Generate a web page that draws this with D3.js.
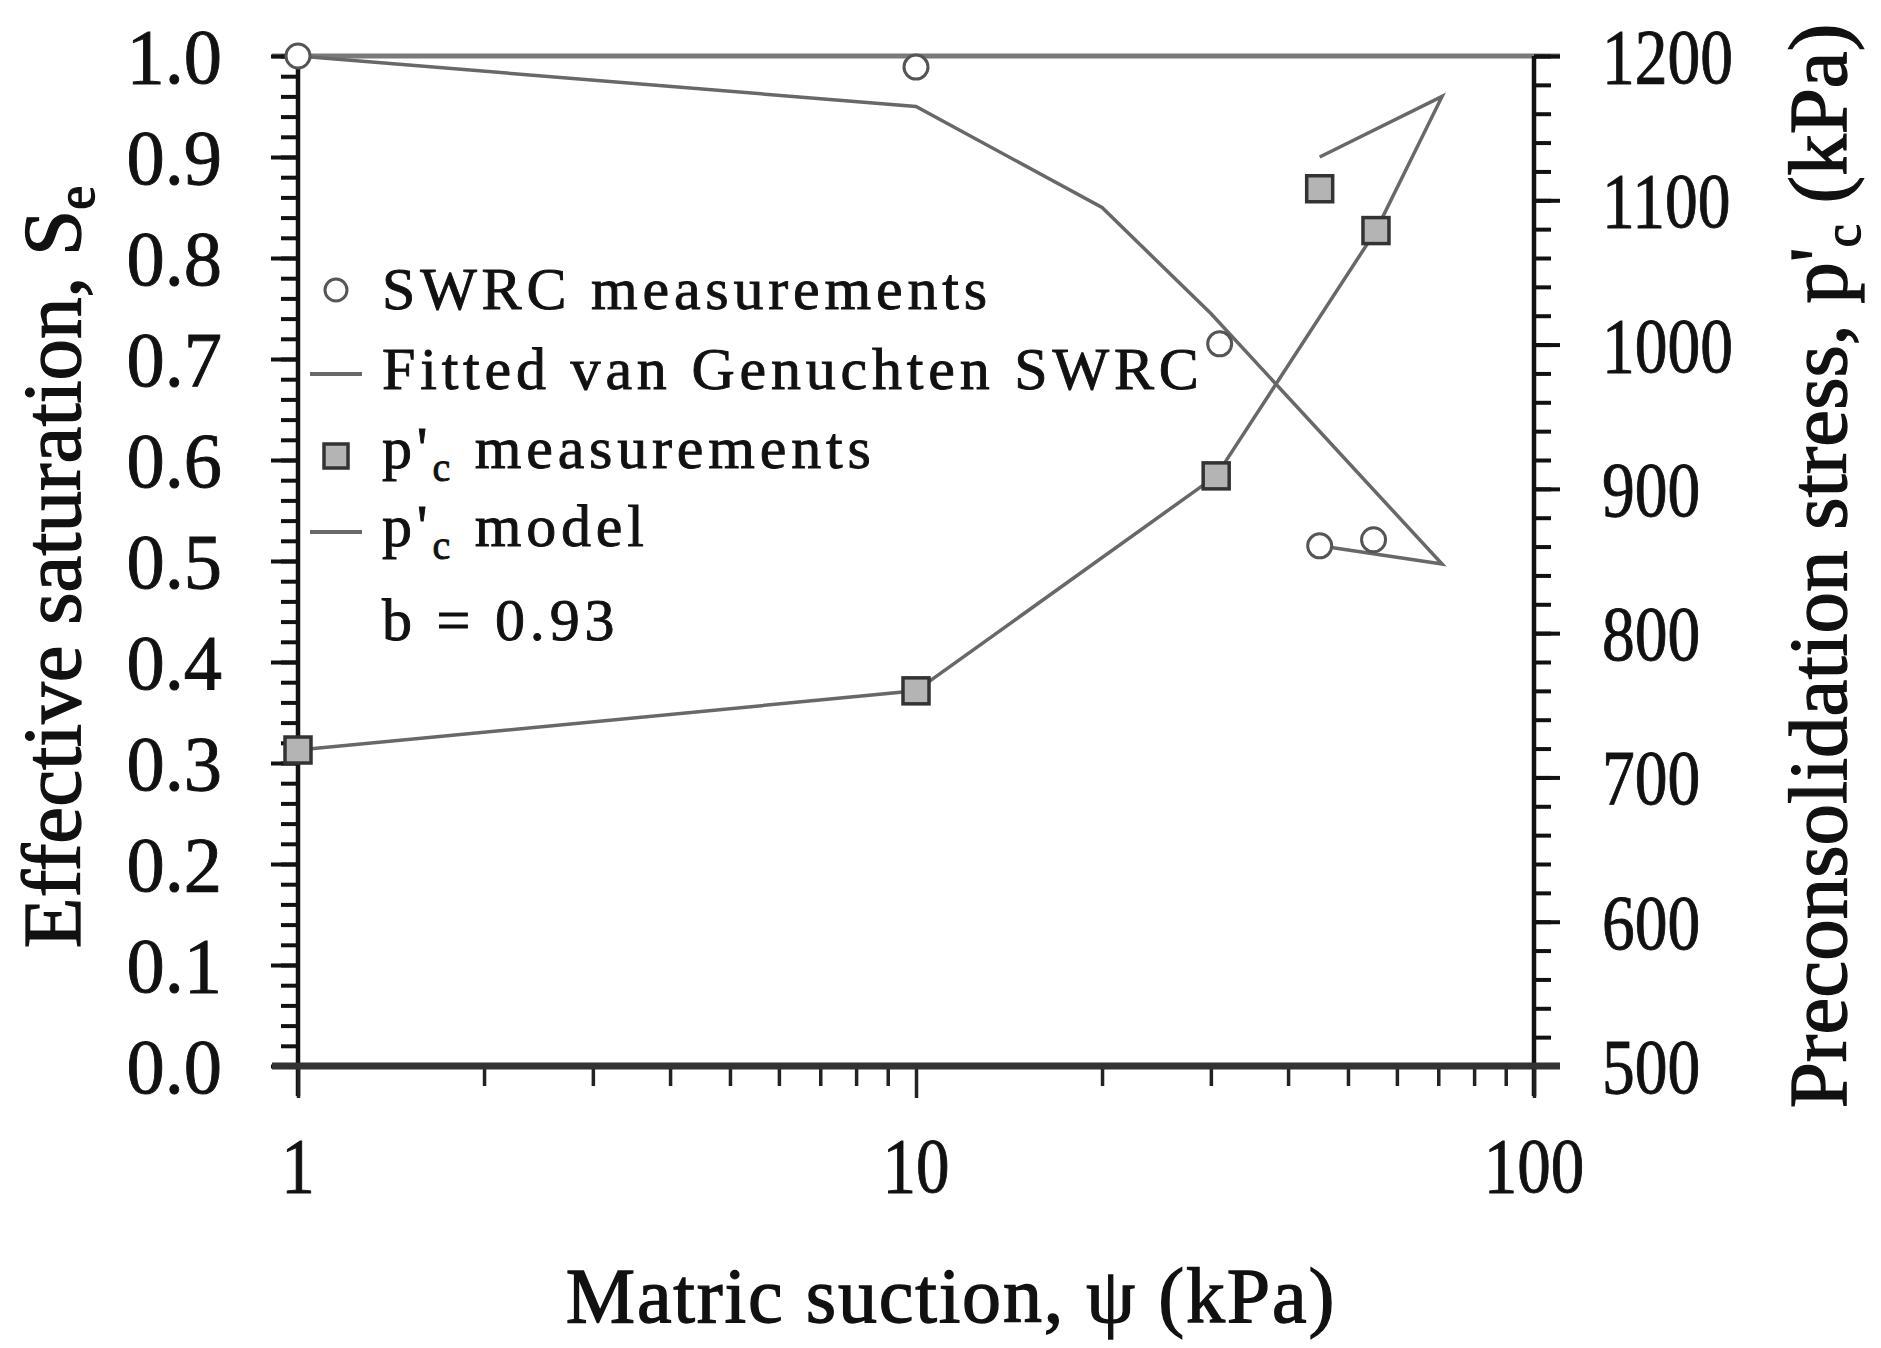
<!DOCTYPE html>
<html>
<head>
<meta charset="utf-8">
<script src="https://cdn.jsdelivr.net/npm/d3@7"></script>
<style>
  html, body { margin: 0; padding: 0; background: #fff; }
  svg text { font-family: "Liberation Serif", "DejaVu Serif", serif; fill: #111; stroke: #111; stroke-width: 0.9px; }
  svg text.title { stroke-width: 1.3px; }
</style>
</head>
<body>
<svg id="chart" width="1881" height="1348"></svg>
<script>
// Matric suction (kPa) vs effective saturation and preconsolidation stress
const swrcSuction = [1, 10, 31, 45, 55];
const swrcSe = [1.0, 0.989, 0.715, 0.515, 0.521];

// fitted van Genuchten curve, in the order the series was plotted
const fitSuction = [1, 10, 20, 30, 71, 45];
const fitSe = [1.0, 0.95, 0.85, 0.745, 0.497, 0.515];

const pcSuction = [1, 10, 30.6, 55.5, 45];
const pcMeasured = [719, 760, 909, 1079, 1108];

// p'c model curve, in plotted order
const modelSuction = [1, 10, 30.6, 55.5, 71, 45];
const modelPc = [719, 760, 909, 1079, 1172, 1130];

const xTickValues = [1, 10, 100];
const xTickLabels = ["1", "10", "100"];
const seTicks = [0, 0.1, 0.2, 0.3, 0.4, 0.5, 0.6, 0.7, 0.8, 0.9, 1.0];
const pcTicks = [500, 600, 700, 800, 900, 1000, 1100, 1200];
const fittedB = "b = 0.93";

const svg = d3.select("#chart");
const plotL = 298, plotR = 1534, plotT = 56, plotB = 1066;

const x = d3.scaleLog().domain([1, 100]).range([plotL, plotR]);
const yL = d3.scaleLinear().domain([0, 1]).range([plotB, plotT]);
const yR = d3.scaleLinear().domain([500, 1200]).range([plotB, plotT]);

const lineCol = "#686868";

// ---- frame and axes ----
// top frame line
svg.append("line").attr("x1", plotL - 26).attr("x2", plotR + 26)
  .attr("y1", plotT).attr("y2", plotT)
  .attr("stroke", "#7a7a7a").attr("stroke-width", 5);

// left axis ticks: minor every 0.02, major every 0.1
const seMinor = d3.range(0, 51).map(i => i * 0.02);
const gl = svg.append("g").attr("transform", `translate(${plotL},0)`);
gl.call(d3.axisLeft(yL).tickValues(seMinor).tickSize(17).tickFormat(""));
gl.append("g").call(d3.axisLeft(yL).tickValues(seTicks).tickSize(27).tickFormat(""));
gl.selectAll(".domain").remove();
gl.selectAll("line").attr("stroke", "#111").attr("stroke-width", 4);
svg.append("line").attr("x1", plotL).attr("x2", plotL).attr("y1", plotT - 2).attr("y2", plotB + 30)
  .attr("stroke", "#111").attr("stroke-width", 4.5);

// right axis ticks: minor every 20 kPa, major every 100
const pcMinor = d3.range(500, 1201, 20);
const gr = svg.append("g").attr("transform", `translate(${plotR},0)`);
gr.call(d3.axisRight(yR).tickValues(pcMinor).tickSize(17).tickFormat(""));
gr.append("g").call(d3.axisRight(yR).tickValues(pcTicks).tickSize(26).tickFormat(""));
gr.selectAll(".domain").remove();
gr.selectAll("line").attr("stroke", "#111").attr("stroke-width", 4);
svg.append("line").attr("x1", plotR).attr("x2", plotR).attr("y1", plotT).attr("y2", plotB + 30)
  .attr("stroke", "#111").attr("stroke-width", 4.5);

// bottom axis: log decades with minor ticks 2..9
const xMinor = [];
[1, 10].forEach(d => { for (let k = 2; k <= 9; k++) xMinor.push(d * k); });
const gb = svg.append("g").attr("transform", `translate(0,${plotB})`);
gb.call(d3.axisBottom(x).tickValues(xMinor).tickSize(20).tickFormat(""));
gb.append("g").call(d3.axisBottom(x).tickValues(xTickValues).tickSize(32).tickFormat(""));
gb.selectAll(".domain").remove();
gb.selectAll("line").attr("stroke", "#222").attr("stroke-width", 3.5);
svg.append("line").attr("x1", plotL - 26).attr("x2", plotR + 26).attr("y1", plotB).attr("y2", plotB)
  .attr("stroke", "#333").attr("stroke-width", 7);

// text helper: horizontally scaled tick labels
function label(x0, y0, str, size, anchor, sx) {
  return svg.append("text")
    .attr("transform", `translate(${x0},${y0}) scale(${sx},1)`)
    .attr("text-anchor", anchor)
    .attr("font-size", size)
    .text(str);
}

seTicks.forEach(v => label(222, yL(v) + 27, v.toFixed(1), 78, "end", 0.98));
pcTicks.forEach(v => label(1602, yR(v) + 27, String(v), 78, "start", 0.84));
xTickValues.forEach((v, i) => label(x(v), 1192, xTickLabels[i], 78, "middle", 0.86));

// ---- axis titles ----
const tl = svg.append("text").attr("class", "title")
  .attr("transform", `translate(80,567) rotate(-90)`)
  .attr("text-anchor", "middle").attr("font-size", 83);
tl.append("tspan").text("Effective saturation, S");
tl.append("tspan").attr("font-size", 54).attr("dy", 14).text("e");

const tr = svg.append("text").attr("class", "title")
  .attr("transform", `translate(1846,566) rotate(-90)`)
  .attr("text-anchor", "middle").attr("font-size", 83);
tr.append("tspan").text("Preconsolidation stress, p'");
tr.append("tspan").attr("font-size", 52).attr("dy", 14).text("c");
tr.append("tspan").attr("dy", -14).text(" (kPa)");

svg.append("text").attr("class", "title").attr("x", 951).attr("y", 1322)
  .attr("text-anchor", "middle").attr("font-size", 78).attr("letter-spacing", 1.8)
  .text("Matric suction, \u03c8 (kPa)");

// ---- data marks ----
const lineGen = d3.line();
svg.append("path")
  .attr("d", lineGen(fitSuction.map((s, i) => [x(s), yL(fitSe[i])])))
  .attr("fill", "none").attr("stroke", lineCol).attr("stroke-width", 3.5);
svg.append("path")
  .attr("d", lineGen(modelSuction.map((s, i) => [x(s), yR(modelPc[i])])))
  .attr("fill", "none").attr("stroke", lineCol).attr("stroke-width", 3.5);

svg.selectAll("circle.swrc").data(swrcSuction).join("circle")
  .attr("class", "swrc")
  .attr("cx", d => x(d)).attr("cy", (d, i) => yL(swrcSe[i])).attr("r", 12)
  .attr("fill", "#fff").attr("stroke", "#555").attr("stroke-width", 3);

const sq = 26;
svg.selectAll("rect.pc").data(pcSuction).join("rect")
  .attr("class", "pc")
  .attr("x", d => x(d) - sq / 2).attr("y", (d, i) => yR(pcMeasured[i]) - sq / 2)
  .attr("width", sq).attr("height", sq)
  .attr("fill", "#b4b4b4").attr("stroke", "#333").attr("stroke-width", 3.5);

// ---- legend ----
const lgX = 382, lgSize = 60;
function legendText(y0) {
  return svg.append("text").attr("x", lgX).attr("y", y0)
    .attr("font-size", lgSize).attr("letter-spacing", 4.8);
}
svg.append("circle").attr("cx", 336).attr("cy", 290).attr("r", 11)
  .attr("fill", "#fff").attr("stroke", "#555").attr("stroke-width", 3);
legendText(309).text("SWRC measurements");

svg.append("line").attr("x1", 310).attr("x2", 362).attr("y1", 374).attr("y2", 374)
  .attr("stroke", lineCol).attr("stroke-width", 4);
legendText(389).text("Fitted van Genuchten SWRC");

svg.append("rect").attr("x", 336 - 12).attr("y", 456 - 12).attr("width", 24).attr("height", 24)
  .attr("fill", "#b4b4b4").attr("stroke", "#333").attr("stroke-width", 3.5);
const l3 = legendText(468);
l3.append("tspan").text("p'");
l3.append("tspan").attr("font-size", 40).attr("dy", 13).text("c");
l3.append("tspan").attr("dy", -13).text(" measurements");

svg.append("line").attr("x1", 310).attr("x2", 362).attr("y1", 532).attr("y2", 532)
  .attr("stroke", lineCol).attr("stroke-width", 4);
const l4 = legendText(546);
l4.append("tspan").text("p'");
l4.append("tspan").attr("font-size", 40).attr("dy", 13).text("c");
l4.append("tspan").attr("dy", -13).text(" model");

legendText(640).text(fittedB);
</script>
</body>
</html>
